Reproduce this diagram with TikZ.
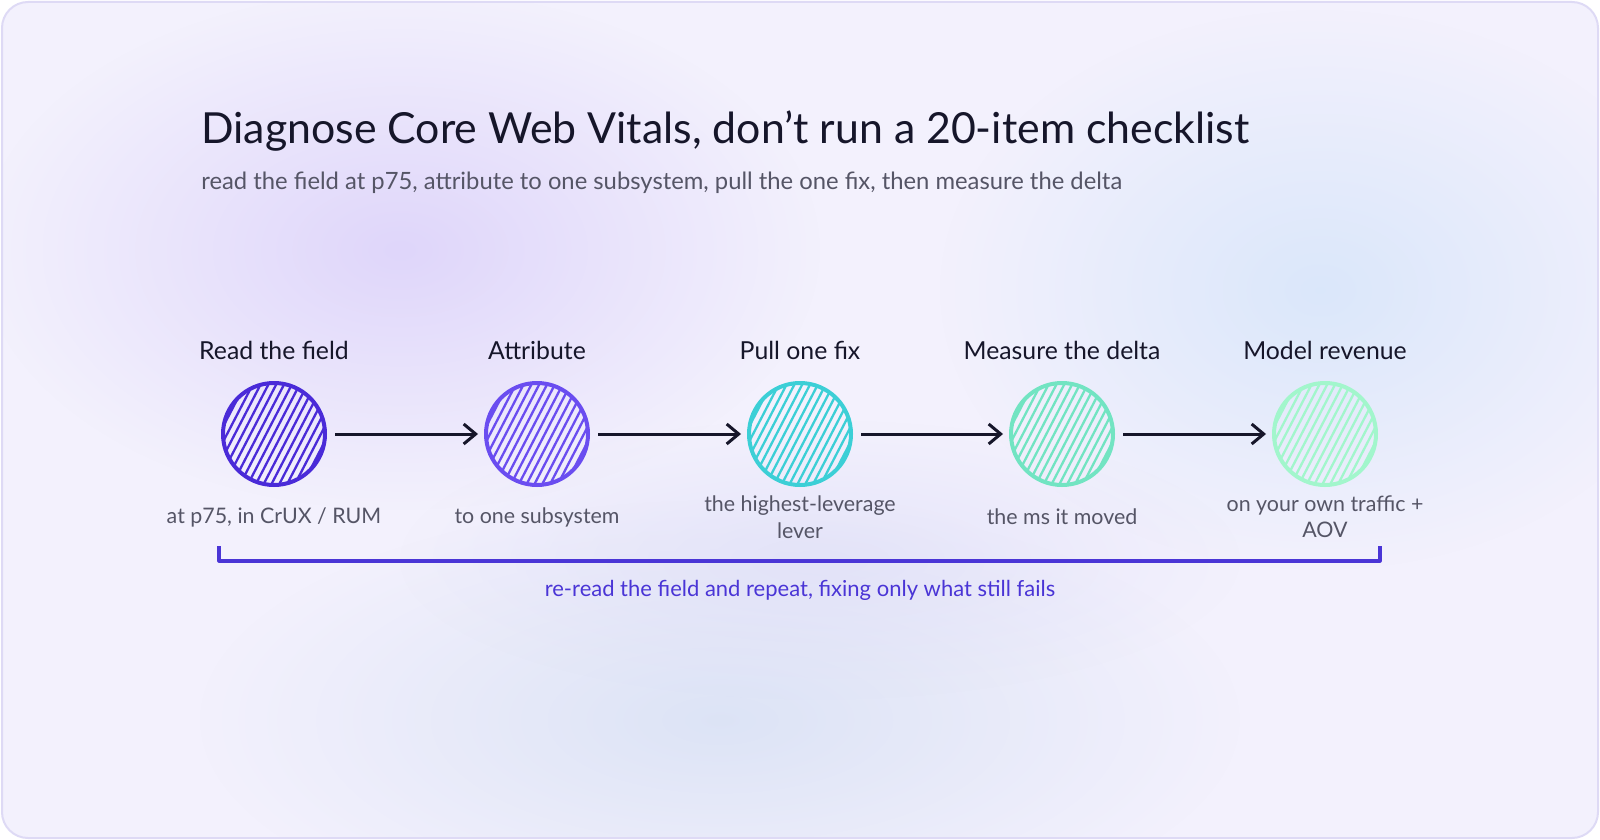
\documentclass[tikz,border=0pt]{standalone}
\usepackage{fontspec}
\setmainfont{Lato}
\usetikzlibrary{arrows.meta,fadings}
\tikzfading[name=blob, inner color=transparent!0, outer color=transparent!100]
\definecolor{bg}{HTML}{F3F1FD}
\definecolor{frame}{HTML}{DEDAF5}
\definecolor{ink}{HTML}{16162A}
\definecolor{sub}{HTML}{555566}
\definecolor{brk}{HTML}{4A35D6}
\definecolor{cA}{HTML}{4A2BD8}
\definecolor{cB}{HTML}{6A4DF0}
\definecolor{cC}{HTML}{3CCFD6}
\definecolor{cD}{HTML}{72E4C2}
\definecolor{cE}{HTML}{A2F6CC}
\definecolor{blobA}{HTML}{DDD3FA}
\definecolor{blobB}{HTML}{D8E6FA}
\definecolor{blobC}{HTML}{DAE2F5}
\definecolor{blobD}{HTML}{DCDCF7}
\tikzset{
  stepc/.style={circle, minimum size=51pt, inner sep=0pt, line width=2pt, draw=#1,
    path picture={\foreach \k in {-10,...,10}
      \draw[#1, line width=1.15pt] ([shift={({\k*5.9-28},{\k*3.7+54})}]path picture bounding box.center) -- ++(56,-108);}},
  steplabel/.style={font=\fontsize{12.4}{15}\selectfont, text=ink},
  sublabel/.style={font=\fontsize{10.7}{13.2}\selectfont, text=sub, align=center},
  arr/.style={draw=ink, line width=1.5pt, -{Straight Barb[length=6pt,width=10pt,line width=1.5pt]}, shorten <=4pt, shorten >=3pt},
}
\begin{document}
\begin{tikzpicture}[x=0.5pt,y=-0.5pt]
\useasboundingbox (0,0) rectangle (1600,840);
\fill[bg, rounded corners=13pt] (2,2) rectangle (1598,838);
\begin{scope}
  \clip[rounded corners=13pt] (2,2) rectangle (1598,838);
  \fill[blobA, path fading=blob, fill opacity=0.9] (400,250) ellipse (420 and 260);
  \fill[blobB, path fading=blob, fill opacity=0.9] (1320,290) ellipse (380 and 280);
  \fill[blobC, path fading=blob, fill opacity=0.9] (720,720) ellipse (520 and 220);
  \fill[blobD, path fading=blob, fill opacity=0.6] (820,560) ellipse (420 and 140);
\end{scope}
\draw[frame, line width=1pt, rounded corners=13pt] (2,2) rectangle (1598,838);

\node[anchor=base west, text=ink, font=\fontsize{21.4}{26}\selectfont, inner sep=0pt] (title) at (201,143) {Diagnose Core Web Vitals, don't run a 20-item checklist};
\node[anchor=base west, text=sub, font=\fontsize{11.9}{14}\selectfont, inner sep=0pt] (subtitle) at (201,189) {read the field at p75, attribute to one subsystem, pull the one fix, then measure the delta};

\node[stepc=cA] (n1) at (274,434) {};
\node[stepc=cB] (n2) at (537,434) {};
\node[stepc=cC] (n3) at (800,434) {};
\node[stepc=cD] (n4) at (1062,434) {};
\node[stepc=cE] (n5) at (1325,434) {};

\node[steplabel] (t1) at (274,350) {Read the field};
\node[steplabel] (t2) at (537,350) {Attribute};
\node[steplabel] (t3) at (800,350) {Pull one fix};
\node[steplabel] (t4) at (1062,350) {Measure the delta};
\node[steplabel] (t5) at (1325,350) {Model revenue};

\node[sublabel] (s1) at (274,517) {at p75, in CrUX / RUM};
\node[sublabel] (s2) at (537,517) {to one subsystem};
\node[sublabel] (s3) at (800,517) {the highest-leverage\\lever};
\node[sublabel] (s4) at (1062,517) {the ms it moved};
\node[sublabel] (s5) at (1325,517) {on your own traffic +\\AOV};

\draw[arr] (n1) -- (n2);
\draw[arr] (n2) -- (n3);
\draw[arr] (n3) -- (n4);
\draw[arr] (n4) -- (n5);

\coordinate (bl) at (219,546);
\coordinate (br) at (1380,546);
\draw[brk, line width=1.6pt, line join=round] (bl) -- ++(0,15) -| (br);
\node[text=brk, font=\fontsize{11}{13.5}\selectfont] (loop) at (800,590) {re-read the field and repeat, fixing only what still fails};
\end{tikzpicture}
\end{document}
